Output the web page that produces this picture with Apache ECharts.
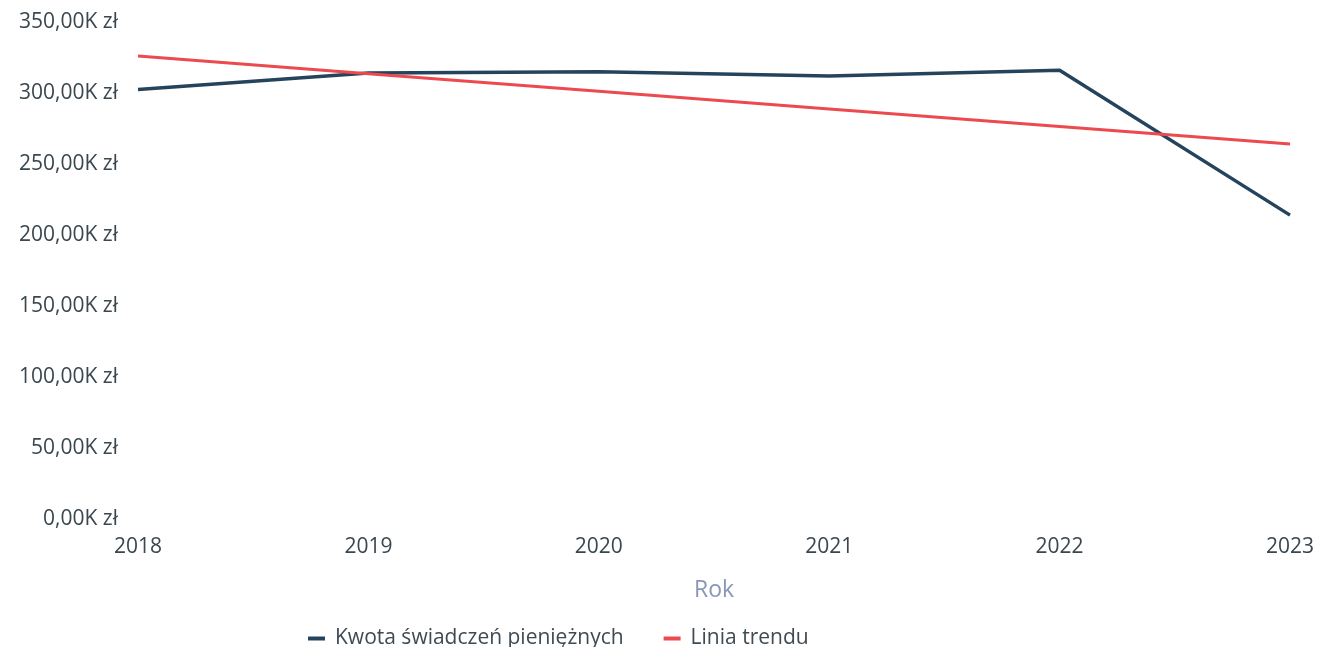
<!DOCTYPE html>
<html>
<head>
<meta charset="utf-8">
<script src="https://cdn.jsdelivr.net/npm/echarts@6/dist/echarts.min.js"></script>
<style>
  html, body { margin: 0; padding: 0; background: #fff; }
  #chart { width: 1317px; height: 647px; }
</style>
</head>
<body>
<div id="chart"></div>
<script>
var years = ["2018", "2019", "2020", "2021", "2022", "2023"];
var kwota = [302500, 314000, 315000, 312000, 316000, 214000];
var trend = [326000, 313600, 301200, 288800, 276400, 264000];

var chart = echarts.init(document.getElementById("chart"));

function fmtK(v) {
  return (v / 1000).toFixed(2).replace(".", ",") + "K zł";
}

var option = {
  animation: false,
  textStyle: { fontFamily: "Open Sans" },
  grid: { left: 138, right: 26, top: 22, bottom: 128 },
  legend: {
    left: 303,
    top: 623,
    itemGap: 40,
    itemWidth: 17,
    itemHeight: 4,
    icon: "rect",
    textStyle: { color: "#3f4a52", fontSize: 21, fontFamily: "Open Sans", padding: [0, 0, 0, 5] },
    data: ["Kwota świadczeń pieniężnych", "Linia trendu"]
  },
  xAxis: {
    type: "category",
    data: years,
    boundaryGap: false,
    name: "Rok",
    nameLocation: "middle",
    nameGap: 60,
    nameTextStyle: { color: "#8896b8", fontSize: 23, fontFamily: "Open Sans" },
    axisLine: { show: false },
    axisTick: { show: false },
    axisLabel: { color: "#3a474f", fontSize: 21, margin: 18 }
  },
  yAxis: {
    type: "value",
    min: 0,
    max: 350000,
    interval: 50000,
    axisLine: { show: false },
    axisTick: { show: false },
    splitLine: { show: false },
    axisLabel: { color: "#3a474f", fontSize: 21, margin: 20, formatter: fmtK }
  },
  series: [
    {
      name: "Kwota świadczeń pieniężnych",
      type: "line",
      data: kwota,
      symbol: "none",
      itemStyle: { color: "#25445c" },
      lineStyle: { color: "#25445c", width: 3.5 }
    },
    {
      name: "Linia trendu",
      type: "line",
      data: trend,
      symbol: "none",
      itemStyle: { color: "#ec4a4f" },
      lineStyle: { color: "#ec4a4f", width: 3 }
    }
  ]
};
chart.setOption(option);
</script>
</body>
</html>
